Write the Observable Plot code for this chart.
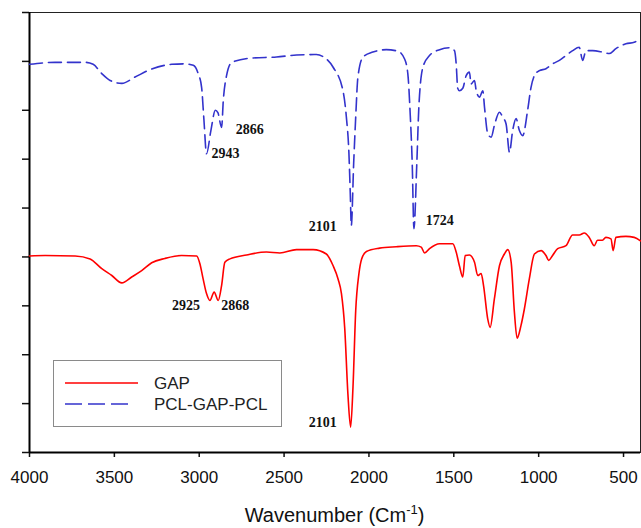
<!DOCTYPE html>
<html>
<head>
<meta charset="utf-8">
<script src="https://cdn.jsdelivr.net/npm/d3@7"></script>
<script src="https://cdn.jsdelivr.net/npm/@observablehq/plot@0.6"></script>
<style>
  body { margin: 0; background: #fff; }
  #wrap { position: relative; width: 641px; height: 528px; font-family: "Liberation Sans", Arial, sans-serif; }
  #xlabel { position: absolute; left: 29px; width: 611px; top: 502px; text-align: center; font-size: 20px; color: #111; }
  #xlabel sup { font-size: 13px; }
  #legend { position: absolute; left: 53px; top: 360px; width: 227px; height: 65px; border: 1px solid #8a8a8a; background: #fff; }
  #legend svg { position: absolute; left: 0; top: 0; }
</style>
</head>
<body>
<div id="wrap"></div>
<script>
// ---- data ----
const seriesNames = ["GAP", "PCL-GAP-PCL"];
const seriesColors = ["#ff0000", "#3333cc"];
const xTicks = [4000, 3500, 3000, 2500, 2000, 1500, 1000, 500];
const yTicks = [0, 10, 20, 30, 40, 50, 60, 70, 80, 90];

const gapWavenumber = [4000, 3908, 3731, 3643, 3574, 3515, 3456, 3398, 3339, 3280, 3202, 3104, 3015, 2996, 2977, 2957, 2937, 2912, 2888, 2868, 2849, 2819, 2721, 2604, 2525, 2427, 2329, 2251, 2211, 2182, 2162, 2143, 2124, 2108, 2094, 2078, 2059, 2043, 2015, 1937, 1839, 1721, 1692, 1672, 1643, 1584, 1506, 1486, 1467, 1447, 1433, 1408, 1378, 1359, 1339, 1325, 1300, 1286, 1261, 1231, 1202, 1182, 1162, 1143, 1127, 1104, 1084, 1055, 1025, 986, 957, 941, 918, 888, 839, 800, 761, 731, 702, 673, 653, 624, 604, 574, 561, 545, 486, 437, 400];
const gapTransmittance = [40.2, 40.3, 40.2, 39.6, 37.6, 36.2, 34.7, 35.9, 37.2, 38.8, 39.7, 40.3, 40.2, 38.6, 35.5, 32.5, 31.1, 32.8, 31.1, 34.2, 38.9, 39.6, 40.4, 41.0, 40.8, 41.5, 41.5, 40.6, 38.2, 35.5, 32.5, 25.6, 12.0, 5.2, 13.4, 29.0, 36.6, 39.6, 41.1, 41.8, 42.1, 42.3, 42.0, 40.8, 41.7, 42.7, 42.7, 41.0, 38.2, 35.9, 40.3, 40.4, 38.9, 36.2, 36.6, 34.2, 27.3, 25.6, 31.4, 38.2, 40.6, 41.5, 38.9, 28.7, 23.4, 26.0, 29.4, 35.5, 40.6, 41.3, 40.3, 39.3, 40.3, 41.7, 42.3, 44.5, 44.5, 44.9, 44.0, 42.3, 43.4, 43.4, 44.0, 43.7, 41.3, 44.0, 44.2, 44.0, 43.3];

const pclWavenumber = [4000, 3849, 3672, 3625, 3574, 3525, 3456, 3378, 3290, 3162, 3084, 3035, 3006, 2986, 2972, 2957, 2931, 2905, 2890, 2868, 2858, 2839, 2808, 2684, 2545, 2427, 2310, 2272, 2211, 2153, 2133, 2118, 2110, 2104, 2090, 2078, 2065, 2035, 1977, 1898, 1830, 1790, 1771, 1757, 1745, 1735, 1718, 1706, 1682, 1643, 1584, 1525, 1496, 1486, 1477, 1467, 1447, 1427, 1408, 1398, 1378, 1368, 1349, 1329, 1319, 1300, 1280, 1261, 1231, 1212, 1192, 1172, 1153, 1133, 1114, 1094, 1065, 1045, 1025, 996, 957, 918, 878, 839, 800, 761, 741, 721, 682, 624, 584, 545, 486, 437, 400];
const pclTransmittance = [79.4, 79.8, 79.8, 79.4, 77.5, 76.1, 75.5, 76.8, 78.3, 79.4, 79.5, 79.2, 77.5, 74.7, 67.9, 61.1, 65.9, 70.0, 69.5, 66.5, 72.1, 77.1, 79.8, 80.7, 80.9, 81.3, 81.4, 81.0, 78.8, 74.0, 68.6, 61.2, 53.0, 46.4, 59.1, 68.6, 76.8, 80.9, 81.9, 82.4, 82.1, 80.5, 77.5, 69.3, 59.1, 45.8, 59.1, 70.6, 78.8, 81.2, 82.4, 82.8, 82.2, 79.5, 74.5, 74.0, 74.5, 77.1, 77.8, 75.4, 76.1, 74.0, 72.7, 74.0, 70.6, 65.2, 64.5, 66.9, 69.6, 68.6, 67.2, 61.4, 65.9, 68.3, 65.9, 64.8, 70.0, 74.7, 77.1, 78.1, 78.5, 79.5, 80.2, 81.2, 82.2, 82.9, 80.2, 82.2, 82.2, 81.9, 81.6, 82.6, 83.6, 83.9, 84.8];

const peakText = ["2866", "2943", "2101", "1724", "2925", "2868", "2101"];
const peakWavenumber = [2785, 2928, 2355, 1665, 3160, 2870, 2355];
const peakTransmittance = [66.1, 61.2, 46.2, 47.5, 30.1, 30.1, 6.1];

// ---- build tables ----
const gapData = gapWavenumber.map((w, i) => ({w, t: gapTransmittance[i]}));
const pclData = pclWavenumber.map((w, i) => ({w, t: pclTransmittance[i]}));
const peaks = peakText.map((s, i) => ({s, w: peakWavenumber[i], t: peakTransmittance[i]}));

const chart = Plot.plot({
  width: 641,
  height: 490,
  marginLeft: 29,
  marginRight: 1,
  marginTop: 12,
  marginBottom: 38,
  style: {fontFamily: "Liberation Sans, Arial, sans-serif", fontSize: "17px", color: "#111", background: "#fff"},
  x: {domain: [4000, 400]},
  y: {domain: [0, 90]},
  marks: [
    Plot.frame({stroke: "#222", strokeWidth: 1}),
    Plot.axisX({ticks: xTicks, tickSize: 5, tickPadding: 13, label: null, strokeWidth: 1.5, fontSize: 17, tickFormat: d => String(d)}),
    Plot.axisY({ticks: yTicks, tickSize: 7, tickFormat: () => "", label: null, strokeWidth: 1.5}),
    Plot.ruleX([4000], {stroke: "#000", strokeWidth: 2}),
    Plot.ruleY([0], {stroke: "#000", strokeWidth: 2}),
    Plot.line(gapData, {x: "w", y: "t", stroke: seriesColors[0], strokeWidth: 1.6, curve: "monotone-x"}),
    Plot.line(pclData, {x: "w", y: "t", stroke: seriesColors[1], strokeWidth: 1.6, strokeDasharray: "13,6", curve: "monotone-x"}),
    Plot.text(peaks, {x: "w", y: "t", text: "s", textAnchor: "start", fontFamily: "Liberation Serif, Times New Roman, serif", fontWeight: "bold", fontSize: 14, fill: "#111"})
  ]
});

const wrap = document.getElementById("wrap");
wrap.appendChild(chart);

const xl = document.createElement("div");
xl.id = "xlabel";
xl.innerHTML = "Wavenumber (Cm<sup>-1</sup>)";
wrap.appendChild(xl);

// legend
const lg = document.createElement("div");
lg.id = "legend";
const ns = "http://www.w3.org/2000/svg";
const svg = document.createElementNS(ns, "svg");
svg.setAttribute("width", 227);
svg.setAttribute("height", 65);
seriesNames.forEach((name, i) => {
  const yy = 22 + i * 21;
  const ln = document.createElementNS(ns, "line");
  ln.setAttribute("x1", 11); ln.setAttribute("x2", i === 0 ? 84 : 78);
  ln.setAttribute("y1", yy); ln.setAttribute("y2", yy);
  ln.setAttribute("stroke", seriesColors[i]);
  ln.setAttribute("stroke-width", 1.6);
  if (i === 1) ln.setAttribute("stroke-dasharray", "17,6");
  svg.appendChild(ln);
  const tx = document.createElementNS(ns, "text");
  tx.setAttribute("x", 100); tx.setAttribute("y", yy);
  tx.setAttribute("dy", "0.35em");
  tx.setAttribute("font-size", 17);
  tx.setAttribute("fill", "#222");
  tx.setAttribute("font-family", "Liberation Sans, Arial, sans-serif");
  tx.textContent = name;
  svg.appendChild(tx);
});
lg.appendChild(svg);
wrap.appendChild(lg);
</script>
</body>
</html>
